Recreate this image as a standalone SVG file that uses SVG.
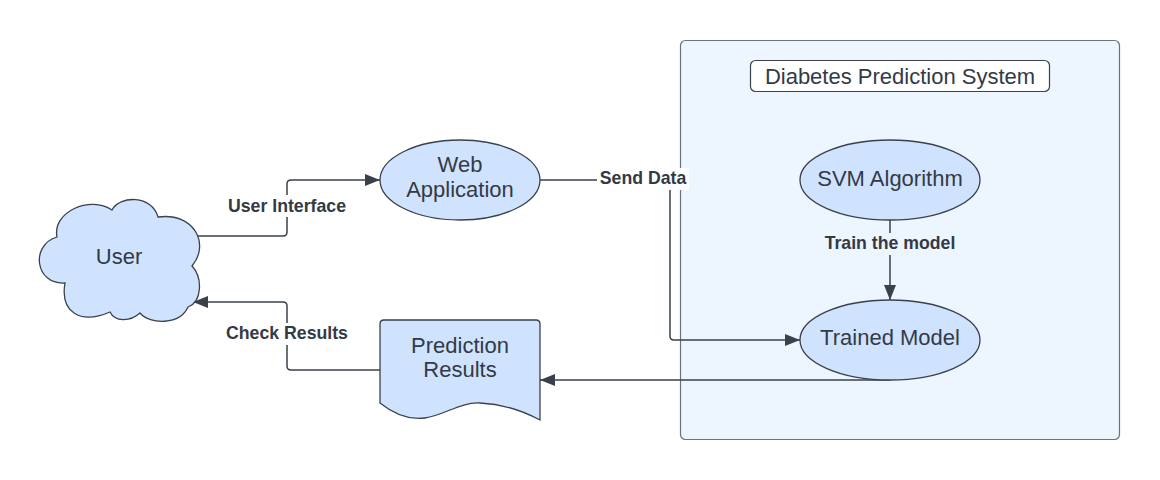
<svg xmlns="http://www.w3.org/2000/svg" width="1160" height="480" viewBox="0 0 1160 480">
<style>
.node{fill:#cfe3ff;stroke:#3a414b;stroke-width:1.3}
.t{font-family:"Liberation Sans",Arial,sans-serif;font-size:22px;fill:#333a45;text-anchor:middle}
.lbl{font-family:"Liberation Sans",Arial,sans-serif;font-size:17.7px;font-weight:bold;fill:#333a45;text-anchor:middle}
.conn{fill:none;stroke:#3a414b;stroke-width:1.5}
</style>
<defs>
<marker id="arr" markerUnits="userSpaceOnUse" markerWidth="16" markerHeight="14" refX="15" refY="7" orient="auto">
<path d="M0,1 L15,7 L0,13 Z" fill="#3a414b"/>
</marker>
</defs>
<rect width="1160" height="480" fill="#ffffff"/>
<g id="system">
<rect x="680.5" y="40.5" width="439" height="399" rx="5" fill="#edf5ff" stroke="#6b7380" stroke-width="1.2"/>
<rect x="750.5" y="60.5" width="299" height="31" rx="5" fill="#ffffff" stroke="#3a414b" stroke-width="1.2"/>
<text class="t" x="900" y="84">Diabetes Prediction System</text>
</g>
<g id="connectors">
<path class="conn" d="M198,236 H283 Q287,236 287,232 V184 Q287,180 291,180 H380" marker-end="url(#arr)"/>
<path class="conn" d="M540,180 H670 V336 Q670,340 674,340 H800" marker-end="url(#arr)"/>
<path class="conn" d="M890,220 V300" marker-end="url(#arr)"/>
<path class="conn" d="M890,380 H540" marker-end="url(#arr)"/>
<path class="conn" d="M380,370 H291 Q287,370 287,366 V306 Q287,302 283,302 H193" marker-end="url(#arr)"/>
<rect x="225" y="195" width="124" height="22" fill="#ffffff"/>
<text class="lbl" x="287" y="212">User Interface</text>
<rect x="597" y="168" width="92" height="22" fill="#ffffff"/>
<text class="lbl" x="643" y="184">Send Data</text>
<rect x="820" y="233" width="140" height="22" fill="#edf5ff"/>
<text class="lbl" x="890" y="249">Train the model</text>
<rect x="222" y="323" width="130" height="22" fill="#ffffff"/>
<text class="lbl" x="287" y="339">Check Results</text>
</g>
<g id="user">
<path class="node" d="M57,237 C52,212 90,195 112,210 C120,195 152,195 158,217 C195,212 210,245 192,266 C203,278 202,302 188,307 C180,325 150,325 140,313 C130,322 115,322 110,312 C80,325 60,312 65,283 C35,285 30,245 57,237 Z"/>
<text class="t" x="119" y="264">User</text>
</g>
<g id="webapp">
<ellipse class="node" cx="460" cy="180" rx="80" ry="40"/>
<text class="t" x="460" y="172">Web</text>
<text class="t" x="460" y="197">Application</text>
</g>
<g id="svm">
<ellipse class="node" cx="890" cy="180" rx="90" ry="40"/>
<text class="t" x="890" y="186">SVM Algorithm</text>
</g>
<g id="trained">
<ellipse class="node" cx="890" cy="340" rx="90" ry="40"/>
<text class="t" x="890" y="345">Trained Model</text>
</g>
<g id="results">
<path class="node" d="M380,324 Q380,320 384,320 H536 Q540,320 540,324 V420 C525,412 505,404 480,403 C460,402 445,415 425,418 C410,420 395,415 380,403 Z"/>
<text class="t" x="460" y="353">Prediction</text>
<text class="t" x="460" y="377">Results</text>
</g>
</svg>
